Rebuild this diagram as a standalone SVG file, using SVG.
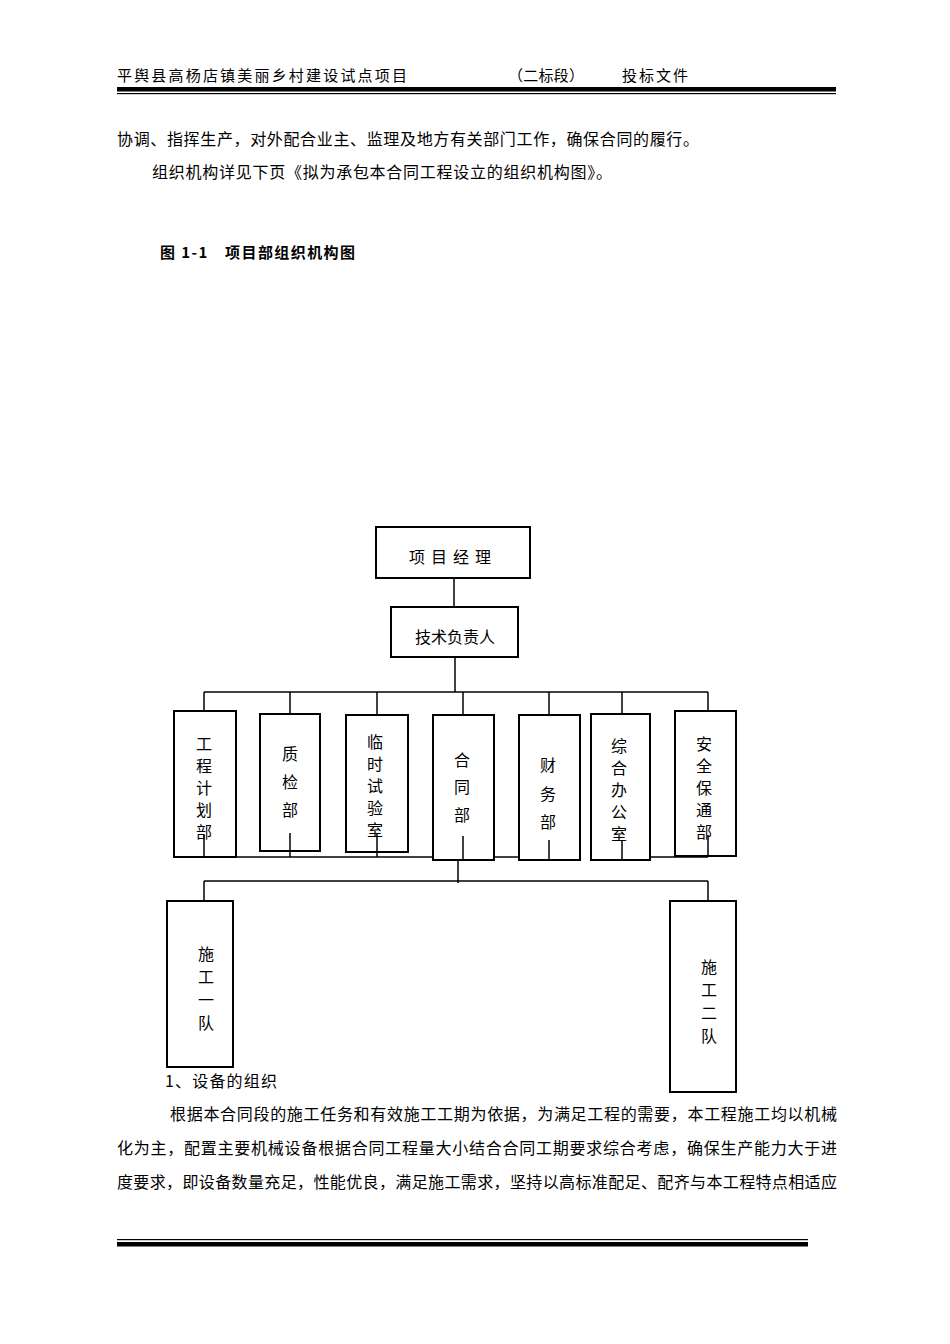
<svg xmlns="http://www.w3.org/2000/svg" width="950" height="1344" viewBox="0 0 950 1344">
<style>
text{font-family:"Noto Sans CJK SC","Liberation Serif",serif;fill:#000}
.b{font-size:16px}
.n rect{fill:#fff;stroke:#000;stroke-width:2}
.n text{font-size:16px;text-anchor:middle}
.c line{stroke:#000;stroke-width:1.5}
</style>
<rect width="950" height="1344" fill="#fff"/>
<text x="117" y="81" font-size="15" textLength="290">平舆县高杨店镇美丽乡村建设试点项目</text>
<text x="508" y="81" font-size="15" textLength="76">（二标段）</text>
<text x="622" y="81" font-size="15" textLength="66">投标文件</text>
<rect x="117" y="87" width="719" height="4.5" fill="#000"/>
<rect x="117" y="93" width="719" height="1.2" fill="#000"/>
<text class="b" x="117" y="145" textLength="582">协调、指挥生产，对外配合业主、监理及地方有关部门工作，确保合同的履行。</text>
<text class="b" x="152" y="178" textLength="460">组织机构详见下页《拟为承包本合同工程设立的组织机构图》。</text>
<text x="160" y="258" font-size="15" font-weight="bold" textLength="195">图 1-1　项目部组织机构图</text>
<g class="c">
<line x1="454" y1="578" x2="454" y2="607"/>
<line x1="455" y1="657" x2="455" y2="692"/>
<line x1="204" y1="692" x2="708" y2="692"/>
<line x1="204" y1="692" x2="204" y2="711"/><line x1="290" y1="692" x2="290" y2="714"/><line x1="377" y1="692" x2="377" y2="715"/><line x1="463" y1="692" x2="463" y2="715"/><line x1="549" y1="692" x2="549" y2="715"/><line x1="622" y1="692" x2="622" y2="714"/><line x1="708" y1="692" x2="708" y2="711"/>
</g>
<g class="n" id="n1"><rect x="376" y="527" width="154" height="51"/><text x="453" y="563" letter-spacing="6">项目经理</text></g>
<g class="n" id="n2"><rect x="391" y="607" width="127" height="50"/><text x="455" y="643">技术负责人</text></g>
<g class="n" id="d1"><rect x="174" y="711" width="62" height="146"/><text x="204" y="750">工</text><text x="204" y="772">程</text><text x="204" y="794">计</text><text x="204" y="816">划</text><text x="204" y="838">部</text></g>
<g class="n" id="d2"><rect x="260" y="714" width="60" height="137"/><text x="290" y="760">质</text><text x="290" y="788">检</text><text x="290" y="816">部</text></g>
<g class="n" id="d3"><rect x="346" y="715" width="62" height="137"/><text x="375" y="748">临</text><text x="375" y="770">时</text><text x="375" y="792">试</text><text x="375" y="814">验</text><text x="375" y="836">室</text></g>
<g class="n" id="d4"><rect x="433" y="715" width="61" height="145"/><text x="462" y="766">合</text><text x="462" y="793">同</text><text x="462" y="821">部</text></g>
<g class="n" id="d5"><rect x="519" y="715" width="61" height="145"/><text x="548" y="771">财</text><text x="548" y="800">务</text><text x="548" y="828">部</text></g>
<g class="n" id="d6"><rect x="591" y="714" width="59" height="146"/><text x="619" y="752">综</text><text x="619" y="774">合</text><text x="619" y="796">办</text><text x="619" y="818">公</text><text x="619" y="840">室</text></g>
<g class="n" id="d7"><rect x="675" y="711" width="61" height="145"/><text x="704" y="750">安</text><text x="704" y="772">全</text><text x="704" y="794">保</text><text x="704" y="816">通</text><text x="704" y="838">部</text></g>
<g class="c">
<line x1="204" y1="835" x2="204" y2="857"/><line x1="290" y1="833" x2="290" y2="857"/><line x1="377" y1="833" x2="377" y2="857"/><line x1="463" y1="836" x2="463" y2="860"/><line x1="549" y1="840" x2="549" y2="860"/><line x1="622" y1="840" x2="622" y2="860"/><line x1="708" y1="835" x2="708" y2="857"/>
<line x1="204" y1="857" x2="433" y2="857"/><line x1="494" y1="857" x2="519" y2="857"/><line x1="650" y1="857" x2="708" y2="857"/>
<line x1="458" y1="860" x2="458" y2="883"/>
<line x1="204" y1="881" x2="708" y2="881"/>
<line x1="204" y1="881" x2="204" y2="901"/><line x1="708" y1="881" x2="708" y2="901"/>
</g>
<g class="n" id="t1"><rect x="167" y="901" width="66" height="166"/><text x="206" y="960">施</text><text x="206" y="983">工</text><text x="206" y="1006">一</text><text x="206" y="1029">队</text></g>
<g class="n" id="t2"><rect x="670" y="901" width="66" height="191"/><text x="709" y="973">施</text><text x="709" y="996">工</text><text x="709" y="1019">二</text><text x="709" y="1042">队</text></g>
<text class="b" x="165" y="1087" textLength="112">1、设备的组织</text>
<text class="b" x="170" y="1120" textLength="667">根据本合同段的施工任务和有效施工工期为依据，为满足工程的需要，本工程施工均以机械</text>
<text class="b" x="117" y="1154" textLength="720">化为主，配置主要机械设备根据合同工程量大小结合合同工期要求综合考虑，确保生产能力大于进</text>
<text class="b" x="117" y="1188" textLength="720">度要求，即设备数量充足，性能优良，满足施工需求，坚持以高标准配足、配齐与本工程特点相适应</text>
<rect x="117" y="1239" width="691" height="1.2" fill="#000"/>
<rect x="117" y="1242" width="691" height="4.5" fill="#000"/>
</svg>
